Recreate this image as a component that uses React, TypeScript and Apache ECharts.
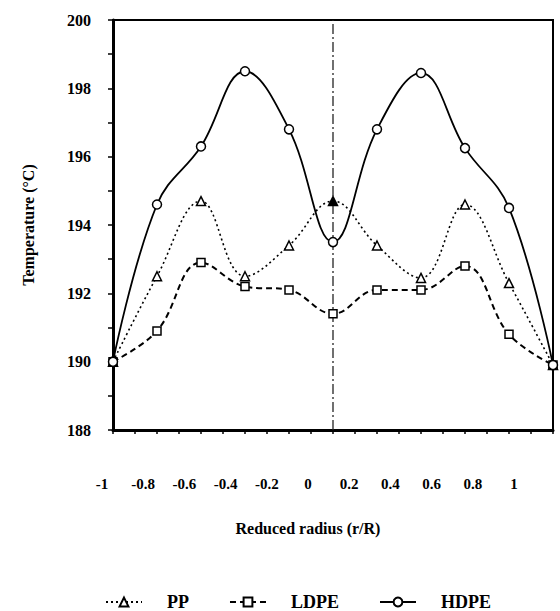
import React, { useEffect, useRef } from "react";
import * as echarts from "echarts";

const radius = [-1, -0.8, -0.6, -0.4, -0.2, 0, 0.2, 0.4, 0.6, 0.8, 1];
const ppTemps = [190.0, 192.5, 194.7, 192.5, 193.4, 194.7, 193.4, 192.45, 194.6, 192.3, 189.9];
const ldpeTemps = [190.0, 190.9, 192.9, 192.2, 192.1, 191.4, 192.1, 192.1, 192.8, 190.8, 189.9];
const hdpeTemps = [190.0, 194.6, 196.3, 198.5, 196.8, 193.5, 196.8, 198.45, 196.25, 194.5, 189.9];
const xTickLabels = ["-1", "-0.8", "-0.6", "-0.4", "-0.2", "0", "0.2", "0.4", "0.6", "0.8", "1"];
const seriesNames = ["PP", "LDPE", "HDPE"];
const filledPP = 0; // radius at which PP marker is filled
const centerLine = [[0, 188], [0, 200]];

const FONT = "Liberation Serif";

export default function App() {
  const ref = useRef<HTMLDivElement>(null);
  useEffect(() => {
    document.body.style.margin = "0";
    if (!ref.current) return;
    const chart = echarts.init(ref.current, undefined, { renderer: "svg" });
    const pts = (arr: number[]) => radius.map((r, i) => [r, arr[i]]);
    const marker = { color: "#fff", borderColor: "#000", borderWidth: 1.5 };
    chart.setOption({
      animation: false,
      backgroundColor: "#fff",
      textStyle: { fontFamily: FONT, fontWeight: "bold", color: "#000" },
      grid: [
        { left: 113, right: 7, top: 20, bottom: 181, show: true, borderColor: "#000", borderWidth: 2, backgroundColor: "transparent" },
        { left: 102, right: 46, top: 20, bottom: 181 },
      ],
      xAxis: [
        {
          type: "value", gridIndex: 0, min: -1, max: 1, interval: 0.1,
          axisLine: { onZero: false, lineStyle: { color: "#000", width: 3 } },
          axisTick: { show: true, length: 4, lineStyle: { color: "#000", width: 1.5 } },
          axisLabel: { show: false },
          splitLine: { show: false },
        },
        {
          type: "value", gridIndex: 1, min: -1, max: 1, interval: 0.2,
          axisLine: { show: false, onZero: false }, axisTick: { show: false }, splitLine: { show: false },
          axisLabel: {
            margin: 46, fontSize: 15, fontFamily: FONT, fontWeight: "bold", color: "#000",
            formatter: (v: number) => xTickLabels[Math.round((v + 1) / 0.2)] ?? "",
          },
          name: "Reduced radius (r/R)", nameLocation: "middle", nameGap: 90,
          nameTextStyle: { fontSize: 16, fontFamily: FONT, fontWeight: "bold", color: "#000" },
        },
      ],
      yAxis: [
        {
          type: "value", gridIndex: 0, min: 188, max: 200, interval: 2,
          axisLine: { show: true, onZero: false, lineStyle: { color: "#000", width: 3 } },
          axisTick: { show: true, length: 5, lineStyle: { color: "#000", width: 1.5 } },
          minorTick: { show: true, splitNumber: 2, length: 5, lineStyle: { color: "#000", width: 1.5 } },
          axisLabel: { margin: 22, fontSize: 16, fontFamily: FONT, fontWeight: "bold", color: "#000" },
          splitLine: { show: false },
          name: "Temperature (°C)", nameLocation: "middle", nameGap: 77,
          nameTextStyle: { fontSize: 16, fontFamily: FONT, fontWeight: "bold", color: "#000" },
        },
        { type: "value", gridIndex: 1, min: 188, max: 200, show: false, axisLine: { onZero: false } },
      ],
      legend: {
        data: seriesNames, left: 105, top: 593, padding: 0, itemWidth: 36, itemHeight: 11, itemGap: 40,
        textStyle: { fontSize: 18, fontFamily: FONT, fontWeight: "bold", color: "#000", padding: [0, 0, 0, 20] },
      },
      series: [
        {
          name: "center", type: "line", data: centerLine, symbol: "none", silent: true, z: 1,
          lineStyle: { color: "#222", width: 1.3, type: [10, 3, 2, 3], cap: "butt" },
        },
        {
          name: "PP", type: "line", smooth: 0.4, symbol: "triangle", symbolSize: 9,
          data: pts(ppTemps).map((p) => (p[0] === filledPP ? { value: p, itemStyle: { color: "#000" } } : p)),
          lineStyle: { color: "#000", width: 1.6, type: [2, 3] },
          itemStyle: marker,
        },
        {
          name: "LDPE", type: "line", smooth: 0.4, symbol: "rect", symbolSize: 8,
          data: pts(ldpeTemps),
          lineStyle: { color: "#000", width: 2, type: [6, 4] },
          itemStyle: marker,
        },
        {
          name: "HDPE", type: "line", smooth: 0.4, symbol: "circle", symbolSize: 9,
          data: pts(hdpeTemps),
          lineStyle: { color: "#000", width: 1.8 },
          itemStyle: marker,
        },
      ],
    });
    return () => chart.dispose();
  }, []);
  return <div ref={ref} style={{ width: 560, height: 611 }} />;
}
